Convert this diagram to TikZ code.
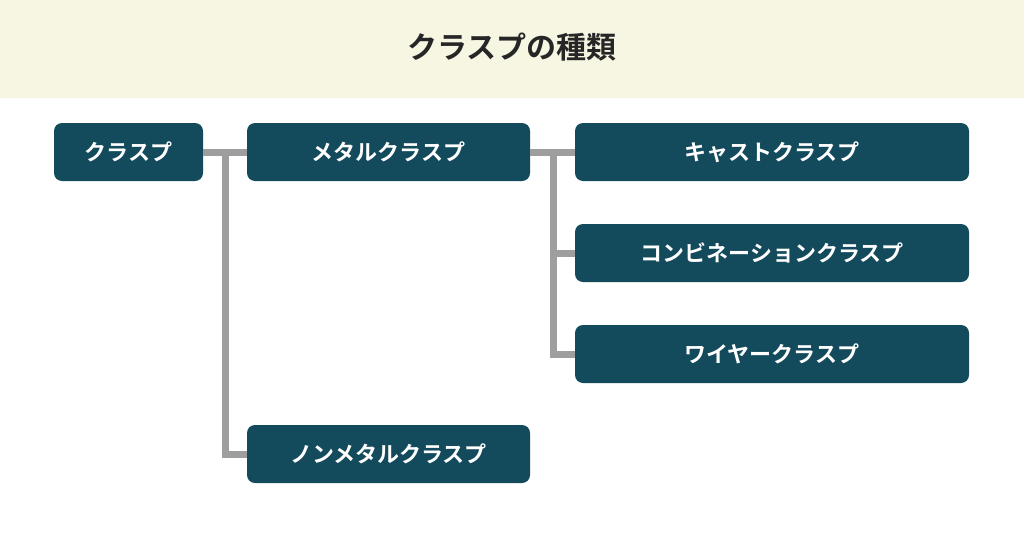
\documentclass[tikz,border=0pt]{standalone}
\usepackage{fontspec}
\setmainfont{Noto Sans CJK JP}[BoldFont={* Bold}]
\definecolor{boxfill}{HTML}{134A5C}
\definecolor{band}{HTML}{F7F6E3}
\definecolor{wire}{HTML}{9E9E9E}
\tikzset{
  kind/.style={fill=boxfill, rounded corners=8pt, text=white, font=\bfseries\fontsize{22}{24}\selectfont, minimum height=58pt, inner sep=0pt},
  link/.style={draw=wire, line width=7pt}
}
\begin{document}
\begin{tikzpicture}[x=1pt,y=-1pt]
	\useasboundingbox (0,0) rectangle (1024,538);
	\fill[white] (0,0) rectangle (1024,538);
	\fill[band] (0,0) rectangle (1024,98);
	\node[font=\bfseries\fontsize{30}{32}\selectfont, text=black!85] at (512,47) (title) {クラスプの種類};
	\draw
	node[kind, minimum width=149pt] at (128.5,152) (clasp) {クラスプ}
	node[kind, minimum width=283pt] at (388.5,152) (metal) {メタルクラスプ}
	node[kind, minimum width=394pt] at (772,152) (cast) {キャストクラスプ}
	node[kind, minimum width=394pt] at (772,253) (comb) {コンビネーションクラスプ}
	node[kind, minimum width=394pt] at (772,354) (wireclasp) {ワイヤークラスプ}
	node[kind, minimum width=283pt] at (388.5,454) (nonmetal) {ノンメタルクラスプ};
	\begin{scope}[on background layer/.style={}]
	\end{scope}
	\draw[link] (clasp.east) -- (metal.west);
	\draw[link] (225,152) |- (nonmetal.west);
	\draw[link] (metal.east) -- (cast.west);
	\draw[link] (553,152) |- (comb.west);
	\draw[link] (553,152) |- (wireclasp.west);
\end{tikzpicture}
\end{document}
